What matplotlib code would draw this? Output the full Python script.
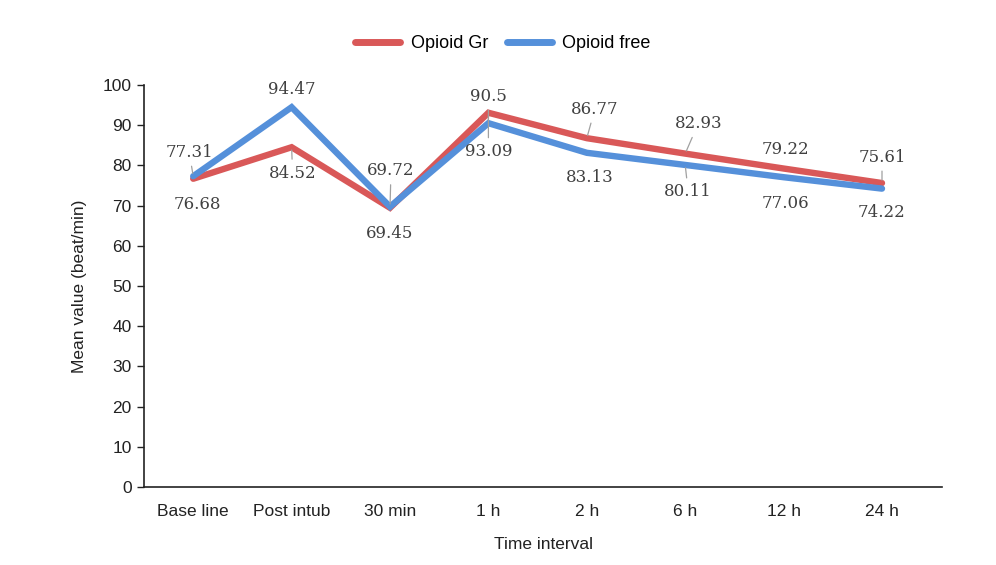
import matplotlib
matplotlib.use('Agg')
import matplotlib.pyplot as plt
import numpy as np

# categories and series values
time_points = ['Base line', 'Post intub', '30 min', '1 h', '2 h', '6 h', '12 h', '24 h']
opioid_gr = [76.68, 84.52, 69.45, 93.09, 86.77, 82.93, 79.22, 75.61]
opioid_free = [77.31, 94.47, 69.72, 90.5, 83.13, 80.11, 77.06, 74.22]

# label offsets in pixels (dx, dy) and whether a leader line is drawn
gr_offsets = [(4, -26, False), (1, -26, True), (0, -26, False), (0, -39, True),
              (8, 29, True), (13, 30, True), (2, 19, False), (0, 26, True)]
free_offsets = [(-4, 24, True), (0, 18, False), (1, 36, True), (0, 27, True),
                (3, -25, False), (3, -27, True), (2, -26, False), (0, -24, False)]

red = '#d95858'
blue = '#5590da'
sans = 'Liberation Sans'

fig = plt.figure(figsize=(9.96, 5.65), dpi=100)
ax = fig.add_axes([0.1446, 0.138, 0.8012, 0.7116])

x = np.arange(len(time_points))
ax.plot(x, opioid_gr, color=red, lw=4.6, label='Opioid Gr', solid_capstyle='round',
        solid_joinstyle='miter', zorder=3)
ax.plot(x, opioid_free, color=blue, lw=4.6, label='Opioid free', solid_capstyle='round',
        solid_joinstyle='miter', zorder=4)


def add_labels(values, offsets):
    for i, (v, (dx, dy, leader)) in enumerate(zip(values, offsets)):
        props = None
        if leader:
            props = dict(arrowstyle='-', color='#a0a0a0', lw=0.9, shrinkA=2, shrinkB=2)
        ax.annotate(f'{v:g}', xy=(i, v), xytext=(dx * 0.72, dy * 0.72),
                    textcoords='offset points', ha='center', va='center',
                    fontsize=12, family='DejaVu Serif', color='#404040',
                    arrowprops=props, zorder=5)


add_labels(opioid_gr, gr_offsets)
add_labels(opioid_free, free_offsets)

ax.set_xlim(-0.5, 7.61)
ax.set_ylim(0, 100)
ax.set_yticks(np.arange(0, 101, 10))
ax.set_xticks(x)
ax.set_xticklabels(time_points)
ax.spines['top'].set_visible(False)
ax.spines['right'].set_visible(False)
for s in ('left', 'bottom'):
    ax.spines[s].set_color('#222222')
    ax.spines[s].set_linewidth(1.2)
ax.tick_params(axis='y', length=5, width=1, color='#222222', labelsize=12.5,
               labelcolor='#222222', pad=4)
ax.tick_params(axis='x', length=0, labelsize=12.5, labelcolor='#222222', pad=12)
for t in ax.get_xticklabels() + ax.get_yticklabels():
    t.set_family(sans)

ax.set_xlabel('Time interval', fontsize=12.5, family=sans, color='#222222', labelpad=13)
ax.set_ylabel('Mean value (beat/min)', fontsize=12.5, family=sans, color='#222222',
              labelpad=11)

leg = fig.legend(loc='upper center', bbox_to_anchor=(0.505, 0.967), ncol=2, frameon=False,
                 prop={'family': sans, 'size': 13}, handlelength=2.5,
                 columnspacing=1.0, handletextpad=0.6)
for h in leg.get_lines():
    h.set_linewidth(5)

fig.savefig('out.png', dpi=100)
